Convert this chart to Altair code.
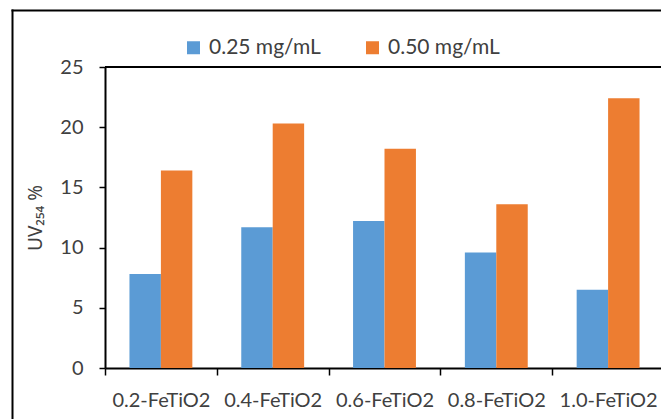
import altair as alt
import pandas as pd

categories = ["0.2-FeTiO2", "0.4-FeTiO2", "0.6-FeTiO2", "0.8-FeTiO2", "1.0-FeTiO2"]
series_names = ["0.25 mg/mL", "0.50 mg/mL"]
values_025 = [7.8, 11.7, 12.2, 9.6, 6.5]
values_050 = [16.4, 20.3, 18.2, 13.6, 22.4]
colors = ["#5B9BD5", "#ED7D31"]
y_ticks = [0, 5, 10, 15, 20, 25]

rows = []
for c, a, b in zip(categories, values_025, values_050):
    rows.append({"cat": c, "series": series_names[0], "value": a})
    rows.append({"cat": c, "series": series_names[1], "value": b})
df = pd.DataFrame(rows)

FONT = "Lato"
TXT = "#404040"
W, H = 556, 301

bars = alt.Chart(df).mark_bar().encode(
    x=alt.X("cat:N", sort=categories,
            scale=alt.Scale(range=[0, 559], paddingInner=0, paddingOuter=0),
            axis=alt.Axis(title=None, labelAngle=0, tickBand="extent",
                          labelFontSize=20, labelFont=FONT, labelColor=TXT,
                          labelPadding=15, tickSize=7, tickWidth=1.5, tickColor="#000",
                          domainColor="#000", domainWidth=2, labelOverlap=False)),
    xOffset=alt.XOffset("series:N", sort=series_names,
                        scale=alt.Scale(paddingInner=0, paddingOuter=0.778)),
    y=alt.Y("value:Q", scale=alt.Scale(domain=[0, 25], nice=False),
            axis=alt.Axis(values=y_ticks, title="UV₂₅₄ %", grid=False,
                          labelFontSize=20, labelFont=FONT, labelColor=TXT,
                          labelPadding=16, tickSize=6, tickWidth=1.5, tickColor="#000",
                          domainColor="#000", domainWidth=2,
                          titleFont="Noto Sans", titleFontSize=19, titleFontWeight="normal",
                          titleColor=TXT, titlePadding=14)),
    color=alt.Color("series:N", sort=series_names,
                    scale=alt.Scale(domain=series_names, range=colors),
                    legend=alt.Legend(title=None, orient="none", legendX=78, legendY=-30,
                                      direction="horizontal", symbolType="square",
                                      symbolSize=169, symbolStrokeWidth=0, symbolOpacity=1,
                                      labelFontSize=21, labelFont=FONT, labelColor=TXT,
                                      labelOffset=5, columnPadding=41, padding=0)),
)

one = pd.DataFrame({"k": [0]})
frame_left = alt.Chart(one).mark_rule(color="#000", strokeWidth=2).encode(
    x=alt.value(-92.5), y=alt.value(-57.5), y2=alt.value(360))
frame_top = alt.Chart(one).mark_rule(color="#000", strokeWidth=2).encode(
    y=alt.value(-56.5), x=alt.value(-93.5), x2=alt.value(W + 10))
plot_top = alt.Chart(one).mark_rule(color="#000", strokeWidth=2).encode(
    y=alt.value(0), x=alt.value(0), x2=alt.value(W + 10))

chart = alt.layer(bars, plot_top, frame_left, frame_top).properties(
    width=W, height=H,
    autosize=alt.AutoSizeParams(type="none"),
    padding={"left": 105, "top": 67, "right": 0, "bottom": 51},
).configure_view(stroke=None).configure(background="white")

chart.save("out.html", embed_options={"renderer": "svg", "actions": False})
